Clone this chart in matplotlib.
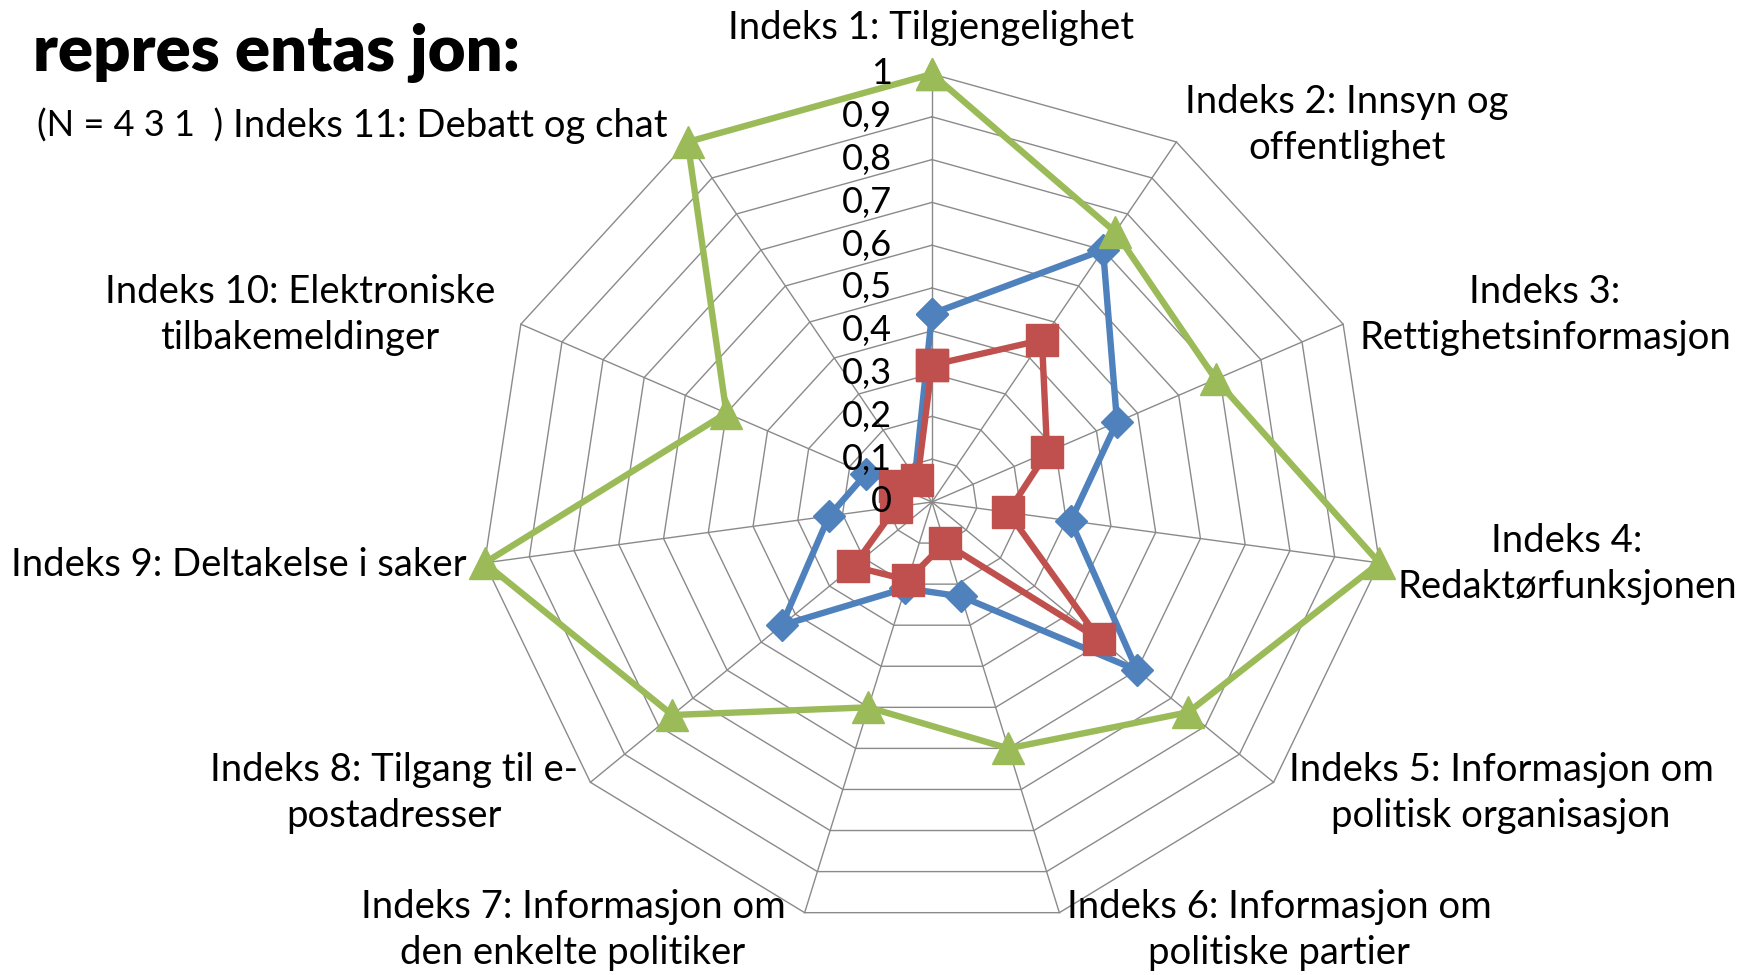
import numpy as np
import matplotlib
matplotlib.use("Agg")
import matplotlib.pyplot as plt
from matplotlib.transforms import offset_copy

# ---------------- data ----------------
categories = [
    "Indeks 1: Tilgjengelighet",
    "Indeks 2: Innsyn og\noffentlighet",
    "Indeks 3:\nRettighetsinformasjon",
    "Indeks 4:\nRedaktørfunksjonen",
    "Indeks 5: Informasjon om\npolitisk organisasjon",
    "Indeks 6: Informasjon om\npolitiske partier",
    "Indeks 7: Informasjon om\nden enkelte politiker",
    "Indeks 8: Tilgang til e-\npostadresser",
    "Indeks 9: Deltakelse i saker",
    "Indeks 10: Elektroniske\ntilbakemeldinger",
    "Indeks 11: Debatt og chat",
]
blue_values = [0.44, 0.70, 0.45, 0.31, 0.60, 0.23, 0.21, 0.44, 0.23, 0.16, 0.07]
red_values = [0.32, 0.45, 0.28, 0.17, 0.49, 0.10, 0.19, 0.23, 0.08, 0.09, 0.06]
green_values = [1.0, 0.75, 0.69, 1.0, 0.75, 0.60, 0.50, 0.76, 1.0, 0.50, 1.0]
ring_values = [0.1, 0.2, 0.3, 0.4, 0.5, 0.6, 0.7, 0.8, 0.9, 1.0]
tick_values = [0, 0.1, 0.2, 0.3, 0.4, 0.5, 0.6, 0.7, 0.8, 0.9, 1.0]
tick_labels = ["0", "0,1", "0,2", "0,3", "0,4", "0,5", "0,6", "0,7", "0,8", "0,9", "1"]
title_text = "repres entas jon:"
subtitle_text = "(N = 4 3 1  )"

# label anchor positions (figure pixels, from top-left)
label_pos = [(931, 28), (1347, 125), (1545, 315), (1567, 564), (1501, 793),
             (1279, 930), (573, 930), (394, 793), (239, 565), (300, 315), (450, 126)]

W, H = 1743, 975
plt.rcParams['font.family'] = ['Lato', 'DejaVu Sans']
fig = plt.figure(figsize=(W / 100, H / 100), dpi=100)
fig.patch.set_facecolor('white')

cx, cy, rx, ry = 932, 502, 452, 428
ax = fig.add_axes([(cx - rx) / W, (H - cy - ry) / H, 2 * rx / W, 2 * ry / H], projection='polar')
ax.set_aspect('auto')
ax.set_theta_zero_location('N')
ax.set_theta_direction(-1)
ax.set_ylim(0, 1)
ax.grid(False)
ax.set_xticks([])
ax.set_yticks([])
ax.spines['polar'].set_visible(False)
ax.patch.set_visible(False)

n = len(categories)
theta = np.arange(n) * 2 * np.pi / n
theta_c = np.append(theta, theta[0])

grid_col = '#8a8a8a'
for v in ring_values:
    ax.plot(theta_c, [v] * (n + 1), color=grid_col, lw=1.0, zorder=1, clip_on=False)
for t in theta:
    ax.plot([t, t], [0, 1], color=grid_col, lw=1.0, zorder=1, clip_on=False)

def closed(vals):
    return list(vals) + [vals[0]]

ax.plot(theta_c, closed(blue_values), color='#4F81BD', lw=4.6, marker='D',
        markersize=16, zorder=3, clip_on=False)
ax.plot(theta_c, closed(red_values), color='#C0504D', lw=4.6, marker='s',
        markersize=23, zorder=4, clip_on=False)
ax.plot(theta_c, closed(green_values), color='#9BBB59', lw=4.6, marker='^',
        markersize=23, zorder=5, clip_on=False)

# radial tick labels
tr = offset_copy(ax.transData, fig=fig, x=-40, y=0, units='dots')
for v, lab in zip(tick_values, tick_labels):
    ax.text(0, v, lab, transform=tr, ha='right', va='center', fontsize=26,
            color='black', zorder=6)

# category labels
for lab, (px, py) in zip(categories, label_pos):
    fig.text(px / W, 1 - py / H, lab, ha='center', va='center', fontsize=27.5,
             multialignment='center', linespacing=1.36, color='black')

fig.text(33 / W, 1 - 53 / H, title_text, ha='left', va='center', fontsize=47,
         fontweight='heavy', color='black')
fig.text(37 / W, 1 - 126 / H, subtitle_text, ha='left', va='center', fontsize=26,
         color='black')

fig.savefig('out.png', dpi=100)
